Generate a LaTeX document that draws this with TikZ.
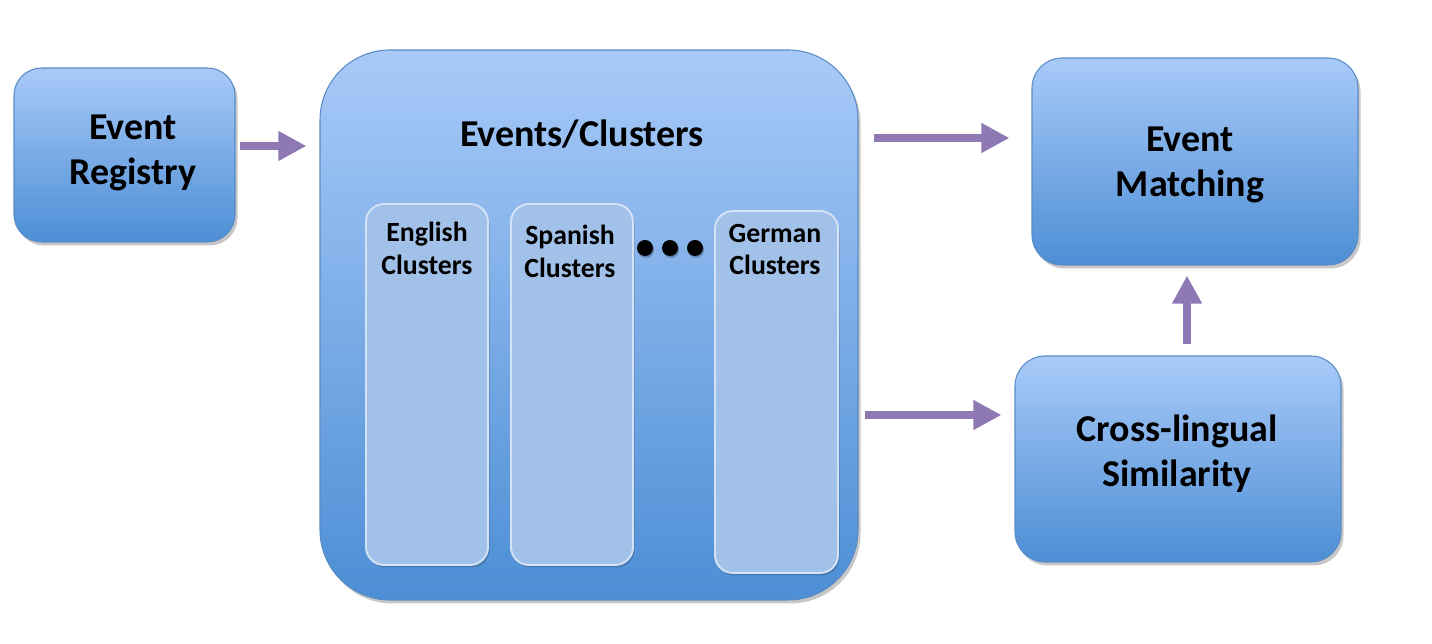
\documentclass[tikz,border=0pt]{standalone}
\usepackage{fontspec}
\setmainfont{Carlito}
\usepackage{tikz}
\usetikzlibrary{arrows.meta,calc,positioning,shadows}
\definecolor{SkyTop}{HTML}{A8CAF8}
\definecolor{SkyBot}{HTML}{4D8ED5}
\definecolor{Rim}{HTML}{5A8CC6}
\definecolor{Pane}{HTML}{A2C1E8}
\definecolor{PaneRim}{HTML}{D3E2F5}
\definecolor{Plum}{HTML}{8F79B5}

\begin{document}
\begin{tikzpicture}[x=1cm,y=1cm,
    block/.style={draw=Rim,line width=0.6pt,rounded corners=#1,top color=SkyTop,bottom color=SkyBot,
      drop shadow={shadow xshift=0.05cm,shadow yshift=-0.07cm,opacity=0.22,fill=black}},
    block/.default=0.55cm,
    pane/.style={draw=PaneRim,line width=1.1pt,fill=Pane,rounded corners=0.36cm,minimum width=2.44cm,
      drop shadow={shadow xshift=0.03cm,shadow yshift=-0.05cm,opacity=0.18,fill=black}},
    big/.style={font=\fontsize{21.6}{25.5}\selectfont\bfseries,align=center},
    small/.style={font=\fontsize{15.8}{18.7}\selectfont\bfseries,align=center},
    flow/.style={Plum,line width=0.16cm,-{Triangle[length=0.56cm,width=0.56cm]}}]
      \useasboundingbox (0,0) rectangle (28.64,12.88);
      \node[block,minimum width=4.42cm,minimum height=3.48cm] (reg) at (2.49,9.78) {};
      \node[block=1.4cm,minimum width=10.76cm,minimum height=11.0cm] (clus) at (11.78,6.38) {};
      \node[block=0.6cm,minimum width=6.52cm,minimum height=4.14cm] (match) at (23.9,9.65) {};
      \node[block=0.6cm,minimum width=6.52cm,minimum height=4.12cm] (sim) at (23.56,3.7) {};
      \node[pane,minimum height=7.22cm] (en) at (8.54,5.19) {};
      \node[pane,minimum height=7.22cm] (es) at (11.44,5.19) {};
      \node[pane,minimum height=7.24cm,minimum width=2.46cm] (de) at (15.53,5.04) {};
      \foreach \x in {12.9,13.4,13.9}
        \fill[black,drop shadow={shadow xshift=0.02cm,shadow yshift=-0.04cm,opacity=0.25,fill=black}] (\x,7.92) circle (0.16);
      \node[big] (reglabel) at (2.66,9.82) {Event\\Registry};
      \node[big] (cluslabel) at (11.64,10.2) {Events/Clusters};
      \node[big] (matchlabel) at (23.8,9.58) {Event\\Matching};
      \node[big] (simlabel) at (23.54,3.8) {Cross-lingual\\Similarity};
      \node[small] (enlabel) at (8.54,7.91) {English\\Clusters};
      \node[small] (eslabel) at (11.4,7.86) {Spanish\\Clusters};
      \node[small] (delabel) at (15.5,7.89) {German\\Clusters};
      \coordinate (a1) at ([yshift=0.18cm]reg.east);
      \coordinate (a2) at ([yshift=0.47cm]match.west);
      \coordinate (a3) at ([yshift=0.88cm]sim.west);
      \coordinate (a4) at ([xshift=0.18cm]sim.north);
      \draw[flow,shorten <=0.08cm,shorten >=0.26cm] (a1) -- (a1 -| clus.west);
      \draw[flow,shorten <=0.3cm,shorten >=0.44cm] (a2 -| clus.east) -- (a2);
      \draw[flow,shorten <=0.12cm,shorten >=0.26cm] (a3 -| clus.east) -- (a3);
      \draw[flow,shorten <=0.22cm,shorten >=0.2cm] (a4) -- (a4 |- match.south);
    \end{tikzpicture}
\end{document}
